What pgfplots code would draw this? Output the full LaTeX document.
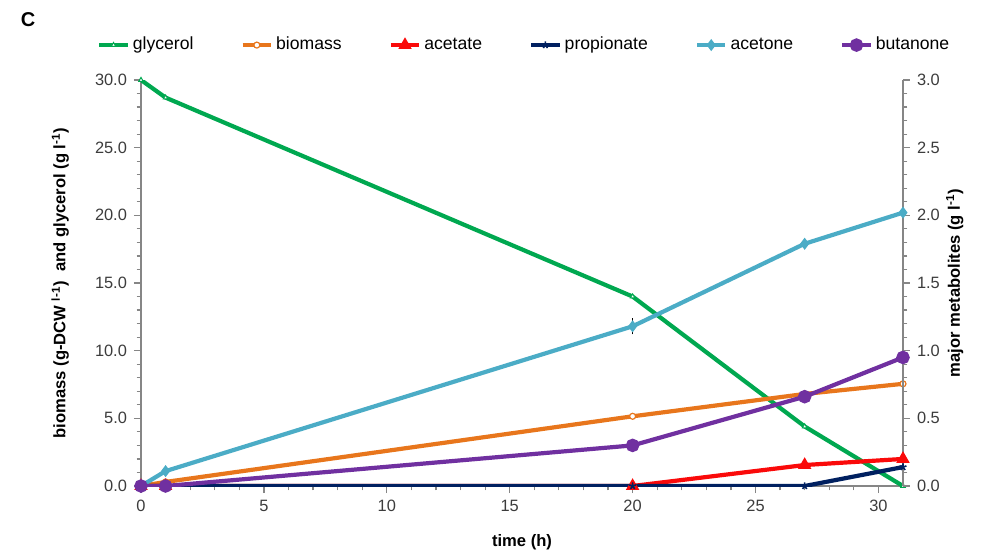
\documentclass[border=0pt]{standalone}
\usepackage{fontspec}
\setmainfont{Liberation Sans}
\usepackage{pgfplots}
\pgfplotsset{compat=1.18}

\definecolor{glyc}{RGB}{0,168,80}
\definecolor{biom}{RGB}{232,118,28}
\definecolor{acet}{RGB}{250,10,10}
\definecolor{prop}{RGB}{0,32,96}
\definecolor{acetn}{RGB}{75,172,198}
\definecolor{buta}{RGB}{112,48,160}
\definecolor{axisgray}{RGB}{134,134,134}
\definecolor{labelgray}{RGB}{60,60,60}

\pgfplotsset{
  common/.style={
    scale only axis, width=381pt, height=203pt,
    xmin=0, xmax=31,
    axis line style={draw=axisgray, line width=0.8pt},
    tick style={draw=axisgray, line width=0.6pt},
    major tick length=3.5pt, minor tick length=2.2pt,
    tick align=outside,
    tick label style={text=labelgray, font=\fontsize{8.2}{9.8}\selectfont},
    label style={font=\bfseries\fontsize{8.3}{10}\selectfont},
    /pgf/number format/assume math mode=true,
  },
  legend image code/.code={
    \draw[mark repeat=2, mark phase=2] plot coordinates {(0cm,0cm) (0.25cm,0cm) (0.5cm,0cm)};
  },
  glycstyle/.style={color=glyc, line width=2.1pt, mark=triangle*, mark size=1.3pt,
    mark options={solid, line width=0.5pt, fill=white}},
  biomstyle/.style={color=biom, line width=2.1pt, mark=*, mark size=1.5pt,
    mark options={solid, line width=0.6pt, fill=white}},
  acetstyle/.style={color=acet, line width=2.1pt, mark=triangle*, mark size=1.8pt},
  propstyle/.style={color=prop, line width=2.1pt, mark=star, mark size=1.8pt,
    mark options={line width=0.8pt}},
  acetnstyle/.style={color=acetn, line width=2.1pt, mark=diamond*, mark size=1.3pt},
  butastyle/.style={color=buta, line width=2.1pt, mark=*, mark size=2.3pt},
}

\pgfplotstableread{
t    glycerol  biomass
0    30.0      0.00
1    28.7      0.30
20   14.0      5.15
27   4.40      6.80
31   0.00      7.55
}\primarydata

\pgfplotstableread{
t    acetate  propionate  acetone  butanone
0    0.000    0.000       0.000    0.000
1    0.000    0.000       0.110    0.000
20   0.000    0.000       1.180    0.300
27   0.155    0.000       1.790    0.660
31   0.200    0.140       2.020    0.950
}\metabolites

\begin{document}
\begin{tikzpicture}[font=\fontsize{8.2}{9.8}\selectfont]
% primary axis: glycerol and biomass
\begin{axis}[common, name=prim,
  axis y line*=left, axis x line*=bottom,
  ymin=0, ymax=30,
  ytick={0,5,10,15,20,25,30}, minor y tick num=4,
  xtick={0,5,10,15,20,25,30}, minor x tick num=4,
  yticklabel style={/pgf/number format/.cd, fixed, fixed zerofill, precision=1},
  xlabel={time (h)},
  xlabel style={at={(axis description cs:0.5,-0.138)}, anchor=center},
  ylabel={biomass (g-DCW \textsuperscript{l-1})\ \ and glycerol (g l\textsuperscript{-1})},
  ylabel style={at={(axis description cs:-0.106,0.5)}, anchor=center},
]
\addplot[glycstyle] table[x=t, y=glycerol] {\primarydata};
\addplot[biomstyle] table[x=t, y=biomass] {\primarydata};
\end{axis}

% secondary axis: major metabolites
\begin{axis}[common,
  axis y line*=right, axis x line=none,
  ymin=0, ymax=3,
  ytick={0,0.5,1,1.5,2,2.5,3}, minor y tick num=4,
  yticklabel style={/pgf/number format/.cd, fixed, fixed zerofill, precision=1},
  ylabel={major metabolites (g l\textsuperscript{-1})},
  ylabel style={at={(axis description cs:1.068,0.5)}, anchor=center},
  legend columns=6,
  legend style={at={(axis description cs:-0.058,1.086)}, anchor=west,
    draw=none, fill=none, inner sep=0pt,
    font=\fontsize{8.8}{10}\selectfont,
    nodes={inner xsep=1.5pt},
    /tikz/every even column/.append style={column sep=22pt}},
]
\addlegendimage{glycstyle}
\addlegendentry{glycerol}
\addlegendimage{biomstyle}
\addlegendentry{biomass}
\addplot[acetstyle] table[x=t, y=acetate] {\metabolites};
\addlegendentry{acetate}
\addplot[propstyle] table[x=t, y=propionate] {\metabolites};
\addlegendentry{propionate}
\addplot[acetnstyle] table[x=t, y=acetone] {\metabolites};
\addlegendentry{acetone}
\addplot[butastyle] table[x=t, y=butanone] {\metabolites};
\addlegendentry{butanone}
% standard deviation of acetone at 20 h
\addplot[forget plot, draw=none, mark=none,
  error bars/.cd, y dir=both, y explicit,
  error bar style={black, line width=0.5pt}, error mark options={black, mark size=2pt, line width=0.5pt}]
  coordinates {(20,1.18) +- (0,0.03)};
\end{axis}

% panel letter
\node[font=\bfseries\fontsize{10}{12}\selectfont, anchor=center]
  at ([xshift=-56.5pt, yshift=30pt]prim.north west) {C};
% page frame around the figure
\path ([xshift=-70.5pt, yshift=-34pt]prim.south west)
  rectangle ([xshift=423pt, yshift=243pt]prim.south west);
\end{tikzpicture}
\end{document}
